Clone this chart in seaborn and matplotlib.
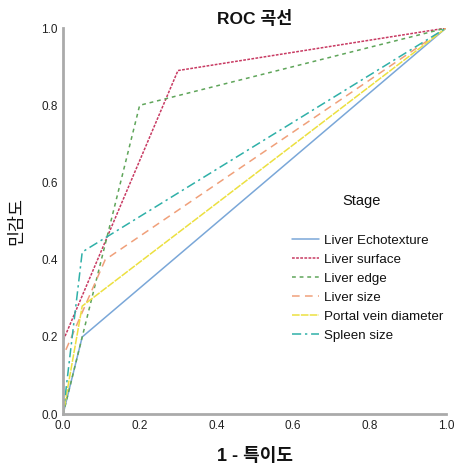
import numpy as np
import pandas as pd
import seaborn as sns
import matplotlib
matplotlib.use("Agg")
import matplotlib.pyplot as plt
from matplotlib.lines import Line2D

series_names = ["Liver Echotexture", "Liver surface", "Liver edge",
                "Liver size", "Portal vein diameter", "Spleen size"]
fpr_echotexture = [0.0, 0.05, 1.0]
tpr_echotexture = [0.0, 0.20, 1.0]
fpr_surface = [0.0, 0.0, 0.30, 1.0]
tpr_surface = [0.0, 0.19, 0.89, 1.0]
fpr_edge = [0.0, 0.20, 1.0]
tpr_edge = [0.0, 0.80, 1.0]
fpr_size = [0.0, 0.0, 0.11, 1.0]
tpr_size = [0.0, 0.15, 0.40, 1.0]
fpr_portal = [0.0, 0.05, 1.0]
tpr_portal = [0.0, 0.28, 1.0]
fpr_spleen = [0.0, 0.05, 1.0]
tpr_spleen = [0.0, 0.42, 1.0]
ticks = [0.0, 0.2, 0.4, 0.6, 0.8, 1.0]

fprs = [fpr_echotexture, fpr_surface, fpr_edge, fpr_size, fpr_portal, fpr_spleen]
tprs = [tpr_echotexture, tpr_surface, tpr_edge, tpr_size, tpr_portal, tpr_spleen]
rows = []
for name, fx, ty in zip(series_names, fprs, tprs):
    for i, (a, b) in enumerate(zip(fx, ty)):
        rows.append({"Stage": name, "fpr": a, "tpr": b, "order": i})
df = pd.DataFrame(rows)

sns.set_style("white")
plt.rcParams['font.family'] = ['Liberation Sans', 'Noto Sans CJK KR', 'DejaVu Sans']
plt.rcParams['text.color'] = '#111111'
plt.rcParams['axes.labelcolor'] = '#111111'
plt.rcParams['xtick.color'] = '#222222'
plt.rcParams['ytick.color'] = '#222222'

colors = {
    "Liver Echotexture": "#7aa7d8",
    "Liver surface": "#c83a62",
    "Liver edge": "#5fa55a",
    "Liver size": "#f0a07a",
    "Portal vein diameter": "#ece040",
    "Spleen size": "#2fb0a8",
}
dashes = {
    "Liver Echotexture": "",
    "Liver surface": (1.8, 0.9),
    "Liver edge": (2.5, 2.5),
    "Liver size": (5, 3.5),
    "Portal vein diameter": (5, 0.8),
    "Spleen size": (6, 2.5, 1.5, 2.5),
}

fig = plt.figure(figsize=(4.57, 4.68), dpi=100)
ax = fig.add_axes([0.138, 0.115, 0.838, 0.825])
sns.lineplot(data=df, x="fpr", y="tpr", hue="Stage", style="Stage",
             palette=colors, dashes=dashes, estimator=None, sort=False,
             units="Stage", linewidth=1.1, ax=ax, legend=False)

ax.set_xlim(0, 1)
ax.set_ylim(0, 1)
ax.set_xticks(ticks)
ax.set_yticks(ticks)
ax.set_xticklabels([f"{t:.1f}" for t in ticks], fontsize=8.5)
ax.set_yticklabels([f"{t:.1f}" for t in ticks], fontsize=8.5)
ax.tick_params(length=0, pad=4)
for s in ["top", "right"]:
    ax.spines[s].set_visible(False)
for s in ["left", "bottom"]:
    ax.spines[s].set_color("#aaaaaa")
    ax.spines[s].set_linewidth(2)

ax.set_title("ROC 곡선", fontsize=12.5, fontweight="bold", pad=3)
ax.set_xlabel("1 - 특이도", fontsize=13, fontweight="bold", labelpad=12)
ax.set_ylabel("민감도", fontsize=12.5, labelpad=12)

handles = [Line2D([0], [0], color=colors[n],
                  linestyle=(0, dashes[n]) if dashes[n] else "-", linewidth=1.1)
           for n in series_names]
ax.text(0.78, 0.552, "Stage", transform=ax.transAxes, ha="center", va="center", fontsize=10.5)
ax.legend(handles, series_names, loc="upper left", bbox_to_anchor=(0.585, 0.48),
          frameon=False, fontsize=9.6, handlelength=2.0, handletextpad=0.35,
          labelspacing=0.5, borderaxespad=0)

fig.savefig("out.png", dpi=100)
